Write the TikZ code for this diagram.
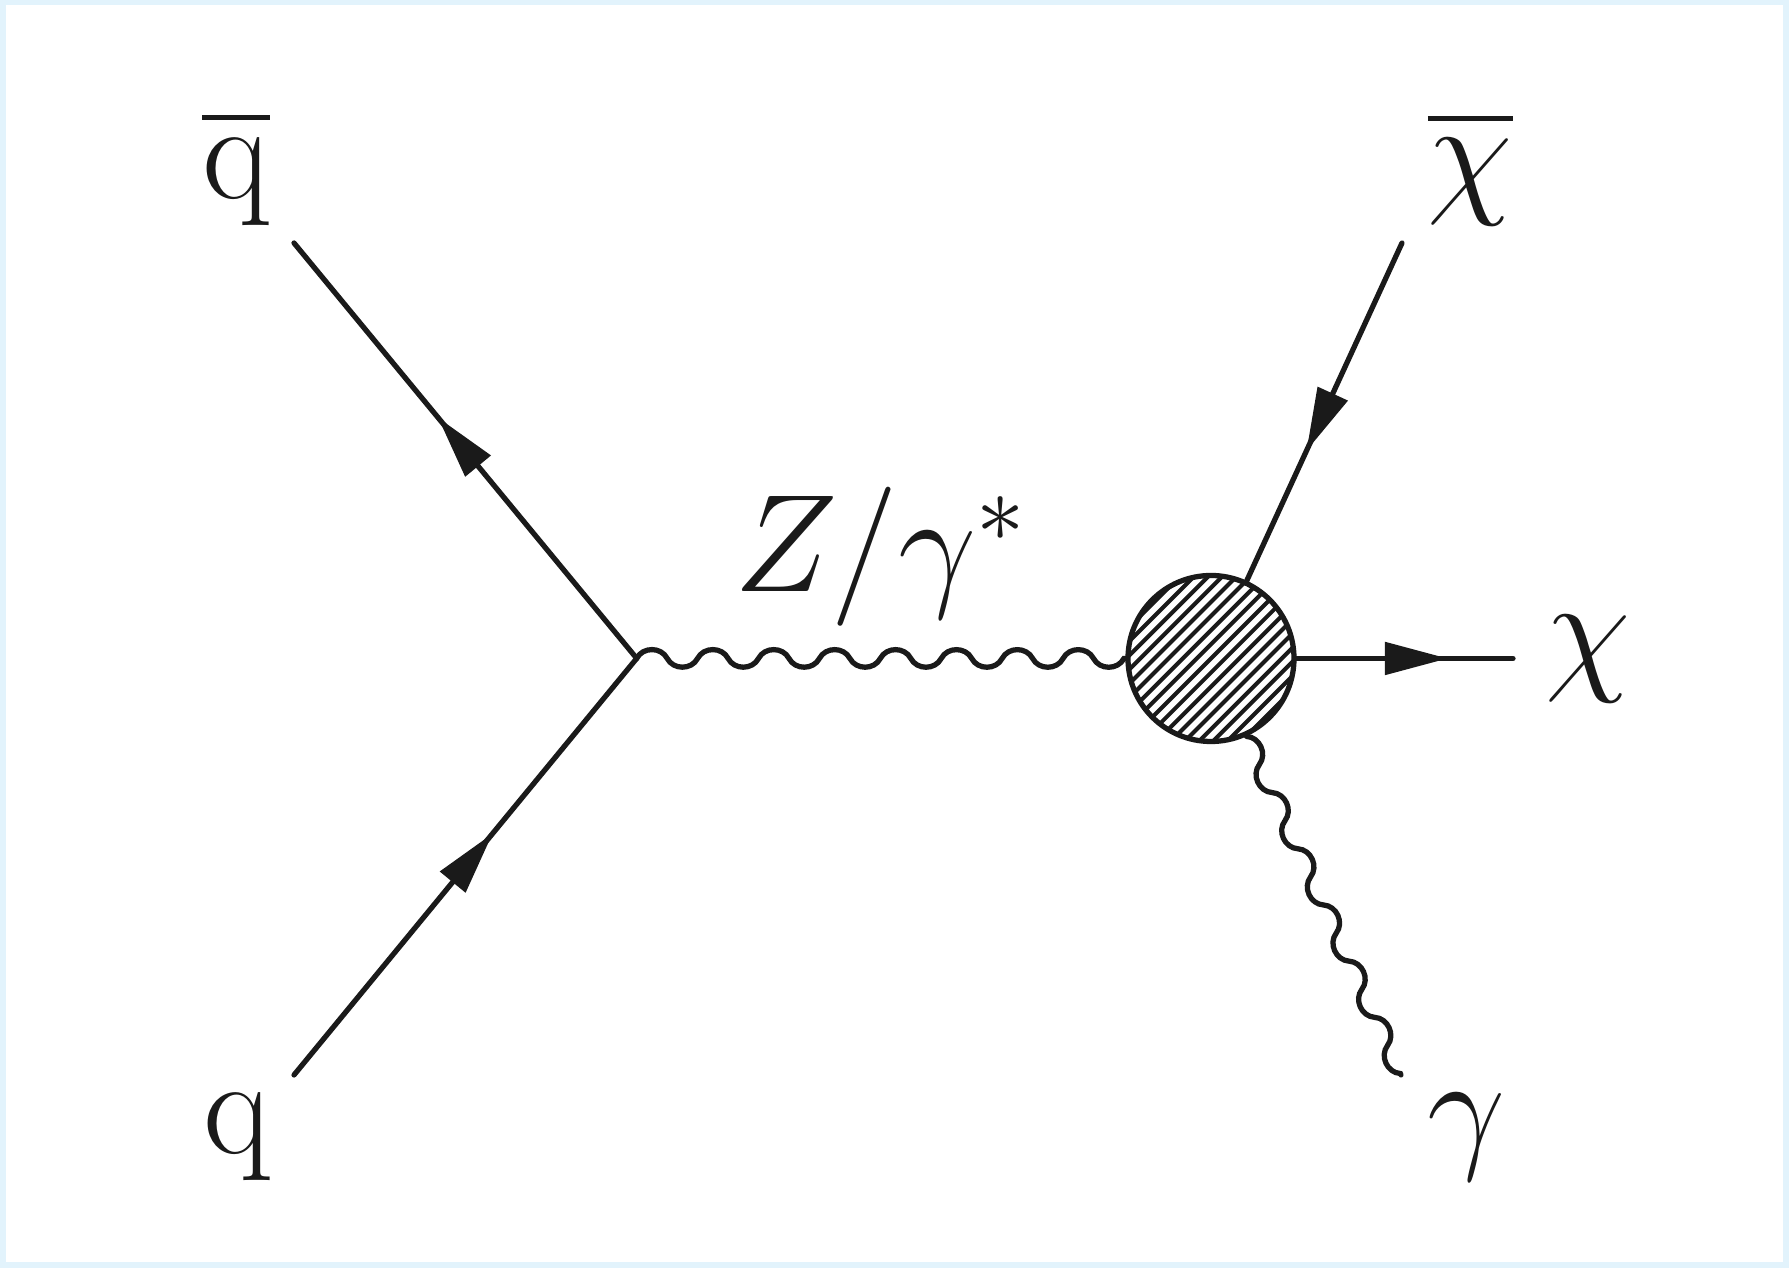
\documentclass[tikz,border=0pt]{standalone}
\usetikzlibrary{arrows.meta,decorations,decorations.markings}
\definecolor{ink}{RGB}{26,26,26}
\definecolor{framebl}{RGB}{226,243,252}

% wave, a whole number of periods along the path
\def\wavelen{(\pgfdecoratedpathlength/\waveperiods-0.05pt)}
\pgfdeclaredecoration{photonwave}{wave}{
  \state{wave}[width=\wavelen, next state=wave]{
    \pgfpathcurveto{\pgfpoint{0.1*\wavelen}{1.333*\pgfdecorationsegmentamplitude}}
                   {\pgfpoint{0.4*\wavelen}{1.333*\pgfdecorationsegmentamplitude}}
                   {\pgfpoint{0.5*\wavelen}{0pt}}
    \pgfpathcurveto{\pgfpoint{0.6*\wavelen}{-1.333*\pgfdecorationsegmentamplitude}}
                   {\pgfpoint{0.9*\wavelen}{-1.333*\pgfdecorationsegmentamplitude}}
                   {\pgfpoint{\wavelen}{0pt}}
  }
  \state{final}{\pgfpathlineto{\pgfpointdecoratedpathlast}}
}
% bar over a label
\newcommand\barlbl[1]{\vbox{\hrule height 0.62pt\kern2.3pt\hbox{#1}}}

\tikzset{fermion/.style={draw=ink,color=ink,line width=1.5pt,line cap=round,postaction={decorate},
  decoration={markings,mark=at position 0.5 with {\pgftransformxshift{4.3mm}\arrow{Triangle[length=6.3mm,width=3.2mm]}}}}}
\tikzset{photon/.style={draw=ink,line width=1.5pt,line cap=round,decorate,
  decoration={photonwave,amplitude=0.88mm},/utils/exec={\def\waveperiods{#1}}}}
\tikzset{blob/.style={circle,draw=ink,fill=white,line width=1.5pt,minimum size=1.66cm,inner sep=0pt,
  path picture={\foreach \k in {-12,...,12}
    \draw[ink,line width=1.15pt] ([shift={(\k*0.0707cm,-\k*0.0707cm)}]path picture bounding box.center) ++(-1,-1) -- ++(2,2);}}}
\tikzset{lbl/.style={text=ink,font=\fontsize{17.28}{20}\selectfont,scale=2.29,anchor=base,inner sep=0pt}}

\begin{document}
\begin{tikzpicture}
        \useasboundingbox (0,0) rectangle (17.89,12.68);
        % frame
        \fill[framebl] (0,0) rectangle (17.89,12.68);
        \fill[white] (0.06,0.06) rectangle (17.83,12.63);
        % vertices and external points
        \coordinate (v) at (6.367,6.096);
        \coordinate (qbar) at (2.94,10.25);
        \coordinate (q) at (2.94,1.93);
        \node[blob] (b) at (12.11,6.095) {};
        \coordinate (chibar) at (14.02,10.25);
        \coordinate (chi) at (15.13,6.095);
        \coordinate (gam) at (14.01,1.93);
        % draw the lines
        \draw[fermion] (v) -- (qbar);
        \draw[fermion] (q) -- (v);
        \draw[photon=8] (v) -- (b);
        \draw[fermion] (chibar) -- (b);
        \draw[fermion] (b) -- (chi);
        \draw[photon=6] (b) -- (gam);
        % labels
        \node[lbl] (qbarlbl) at (2.36,10.69) {\barlbl{q}};
        \node[lbl] (qlbl) at (2.375,1.145) {q};
        \node[lbl] (zlbl) at (8.82,6.76) {$Z/\gamma^*$};
        \node[lbl] (chibarlbl) at (14.705,10.69) {\barlbl{$\chi$}};
        \node[lbl] (chilbl) at (15.88,5.92) {$\chi$};
        \node[lbl] (gamlbl) at (14.67,1.145) {$\gamma$};
\end{tikzpicture}
\end{document}
